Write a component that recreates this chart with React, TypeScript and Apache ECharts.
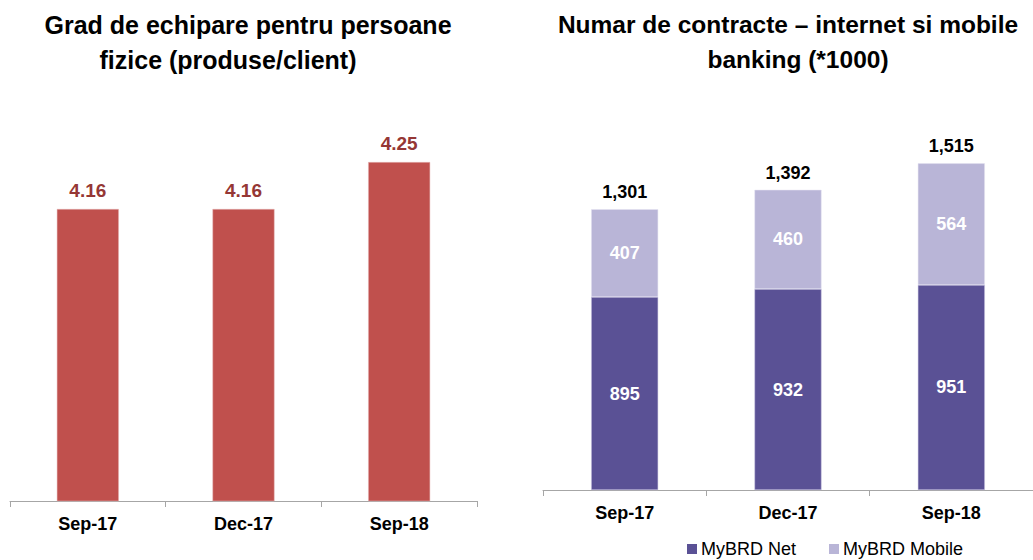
import React, { useEffect, useRef } from "react";
import * as echarts from "echarts";

const categories = ["Sep-17", "Dec-17", "Sep-18"];
const productsPerClient = [4.16, 4.16, 4.25];
const myBrdNet = [895, 932, 951];
const myBrdMobile = [407, 460, 564];
const contractTotals = [1301, 1392, 1515];

const FONT = "'Liberation Sans', Arial, sans-serif";

export default function App() {
  const ref = useRef<HTMLDivElement>(null);
  useEffect(() => {
    if (!ref.current) return;
    const chart = echarts.init(ref.current, undefined, { renderer: "svg" });
    const axisCommon = {
      type: "category",
      data: categories,
      axisLine: { lineStyle: { color: "#A6A6A6", width: 1 } },
      axisTick: { show: true, alignWithLabel: false, length: 6, lineStyle: { color: "#A6A6A6" } },
      axisLabel: { color: "#000", fontSize: 18, fontWeight: "bold", fontFamily: FONT, margin: 14 },
    };
    const titleStyleL = { fontSize: 25, fontWeight: "bold", color: "#000", fontFamily: FONT };
    const titleStyleR = { fontSize: 24.5, fontWeight: "bold", color: "#000", fontFamily: FONT };
    chart.setOption({
      animation: false,
      textStyle: { fontFamily: FONT },
      title: [
        { text: "Grad de echipare pentru persoane", left: 248, top: 12, padding: 0, textAlign: "center", textStyle: titleStyleL },
        { text: "fizice (produse/client)", left: 228, top: 47, padding: 0, textAlign: "center", textStyle: titleStyleL },
        { text: "Numar de contracte \u2013 internet si mobile", left: 788, top: 12, padding: 0, textAlign: "center", textStyle: titleStyleR },
        { text: "banking (*1000)", left: 798, top: 47, padding: 0, textAlign: "center", textStyle: titleStyleR },
      ],
      legend: {
        data: ["MyBRD Net", "MyBRD Mobile"],
        left: 687,
        top: 540,
        padding: 0,
        icon: "rect",
        itemWidth: 10,
        itemHeight: 10,
        itemGap: 33,
        itemStyle: { borderWidth: 0 },
        textStyle: { fontSize: 18, color: "#000", fontFamily: FONT, padding: [0, 0, 0, -1] },
      },
      grid: [
        { left: 10, width: 467, top: 136, height: 365 },
        { left: 543, width: 501, top: 145, height: 345 },
      ],
      xAxis: [
        { ...axisCommon, gridIndex: 0 },
        { ...axisCommon, gridIndex: 1 },
      ],
      yAxis: [
        { type: "value", gridIndex: 0, min: 3.6, max: 4.3, show: false },
        { type: "value", gridIndex: 1, min: 0, max: 1600, show: false },
      ],
      series: [
        {
          name: "Produse/client",
          type: "bar",
          xAxisIndex: 0,
          yAxisIndex: 0,
          data: productsPerClient,
          barWidth: 62,
          itemStyle: { color: "#C0504D", borderColor: "#E6B9B8", borderWidth: 0.5 },
          label: {
            show: true, position: "top", distance: 9,
            formatter: (p: any) => Number(p.value).toFixed(2),
            color: "#953735", fontSize: 19, fontWeight: "bold", fontFamily: FONT,
          },
        },
        {
          name: "Total",
          type: "bar",
          xAxisIndex: 1,
          yAxisIndex: 1,
          data: contractTotals,
          barWidth: 67,
          barGap: "-100%",
          z: 1,
          itemStyle: { color: "rgba(0,0,0,0)" },
          label: {
            show: true, position: "top", distance: 8,
            formatter: (p: any) => Number(p.value).toLocaleString("en-US"),
            color: "#000", fontSize: 18, fontWeight: "bold", fontFamily: FONT,
          },
        },
        {
          name: "MyBRD Net",
          type: "bar",
          stack: "contracts",
          xAxisIndex: 1,
          yAxisIndex: 1,
          data: myBrdNet,
          barWidth: 67,
          barGap: "-100%",
          z: 2,
          itemStyle: { color: "#5A5195", borderColor: "#C8C4E0", borderWidth: 0.5 },
          label: { show: true, position: "inside", color: "#fff", fontSize: 18, fontWeight: "bold", fontFamily: FONT },
        },
        {
          name: "MyBRD Mobile",
          type: "bar",
          stack: "contracts",
          xAxisIndex: 1,
          yAxisIndex: 1,
          data: myBrdMobile,
          barWidth: 67,
          barGap: "-100%",
          z: 2,
          itemStyle: { color: "#B9B5D7", borderColor: "#E4E2F0", borderWidth: 0.5 },
          label: { show: true, position: "inside", color: "#fff", fontSize: 18, fontWeight: "bold", fontFamily: FONT },
        },
      ],
    });
    return () => chart.dispose();
  }, []);
  return (
    <div
      ref={ref}
      style={{ position: "fixed", left: 0, top: 0, width: 1033, height: 560, background: "#fff" }}
    />
  );
}
